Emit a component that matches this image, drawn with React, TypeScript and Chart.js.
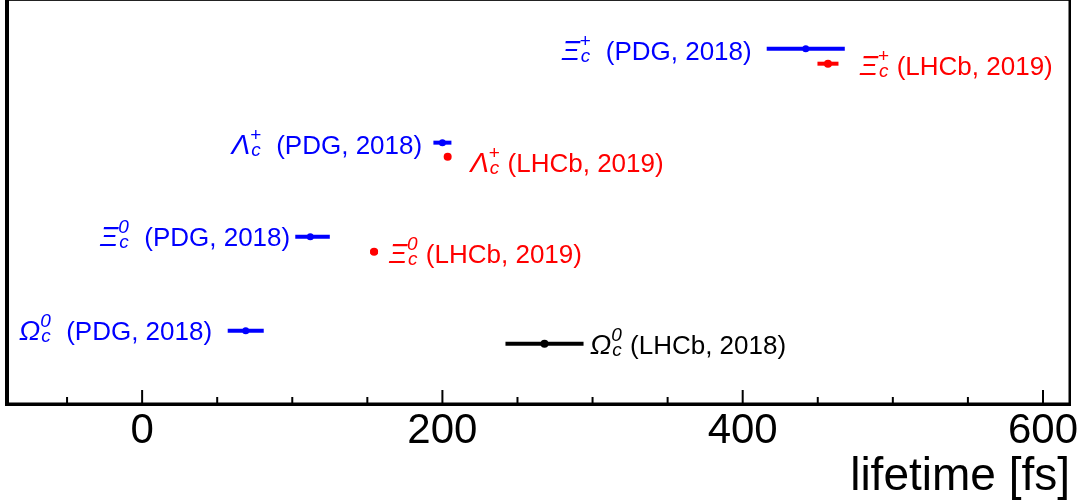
import React, { useEffect, useRef } from 'react';
import { Chart, registerables } from 'chart.js';

Chart.register(...registerables);

// ---- data ----
const greekSymbol = ['Ξ', 'Λ', 'Ξ', 'Ω'];
const chargeSymbol = ['+', '+', '0', '0'];

const pdgRow = [4, 3, 2, 1];
const pdgTau = [442, 200, 112, 69];
const pdgErrLo = [26, 6, 10, 12];
const pdgErrHi = [26, 6, 13, 12];
const pdgText = ['(PDG, 2018)', '(PDG, 2018)', '(PDG, 2018)', '(PDG, 2018)'];

const lhcbRow = [3.84, 2.85, 1.84, 0.86];
const lhcbTau = [456.8, 203.5, 154.5, 268];
const lhcbErr = [7, 2.2, 2.6, 26];
const lhcbText = ['(LHCb, 2019)', '(LHCb, 2019)', '(LHCb, 2019)', '(LHCb, 2018)'];
const lhcbColor = ['#ff0000', '#ff0000', '#ff0000', '#000000'];

// label anchors in data units
const pdgLabelX = [406, 186.5, 98.6, 46.6];
const pdgLabelY = [3.884, 2.881, 1.899, 0.896];
const lhcbLabelX = [478, 218.5, 164.4, 298.3];
const lhcbLabelY = [3.715, 2.691, 1.719, 0.748];

const xMin = -90;
const xMax = 618;
const majorStep = 200;
const minorStep = 50;
const axisTitle = 'lifetime [fs]';

const BLUE = '#0000ff';

function drawLabel(
  ctx: CanvasRenderingContext2D,
  x: number,
  y: number,
  align: 'left' | 'right',
  g: string,
  q: string,
  text: string,
  color: string
) {
  const mainFont = 'italic 28px "Liberation Sans", Arial, sans-serif';
  const subFont = 'italic 19px "Liberation Sans", Arial, sans-serif';
  const supFont = q === '+' ? '19px "Liberation Sans", Arial, sans-serif' : 'italic 19px "Liberation Sans", Arial, sans-serif';
  const textFont = '26px "Liberation Sans", Arial, sans-serif';
  ctx.save();
  ctx.fillStyle = color;
  ctx.textBaseline = 'alphabetic';
  ctx.textAlign = 'left';
  ctx.font = mainFont;
  const gw = ctx.measureText(g).width;
  ctx.font = subFont;
  const cw = ctx.measureText('c').width;
  ctx.font = supFont;
  const qw = ctx.measureText(q).width;
  const scriptW = Math.max(2 + cw, qw);
  ctx.font = textFont;
  const tw = ctx.measureText(text).width;
  const total = gw + scriptW + tw;
  const x0 = align === 'right' ? x - total : x;
  ctx.font = mainFont;
  ctx.fillText(g, x0, y);
  ctx.font = subFont;
  ctx.fillText('c', x0 + gw + 1, y + 2);
  ctx.font = supFont;
  ctx.fillText(q, x0 + gw, y - 13);
  ctx.font = textFont;
  ctx.fillText(text, x0 + gw + scriptW, y);
  ctx.restore();
}

const decorPlugin = {
  id: 'decor',
  beforeDatasetsDraw(chart: any) {
    const ctx = chart.ctx as CanvasRenderingContext2D;
    const xs = chart.scales.x;
    const ys = chart.scales.y;
    ctx.save();
    ctx.lineCap = 'butt';
    ctx.lineWidth = 4;
    for (let i = 0; i < pdgTau.length; i++) {
      const y = ys.getPixelForValue(pdgRow[i]);
      ctx.strokeStyle = BLUE;
      ctx.beginPath();
      ctx.moveTo(xs.getPixelForValue(pdgTau[i] - pdgErrLo[i]), y);
      ctx.lineTo(xs.getPixelForValue(pdgTau[i] + pdgErrHi[i]), y);
      ctx.stroke();
    }
    for (let i = 0; i < lhcbTau.length; i++) {
      const y = ys.getPixelForValue(lhcbRow[i]);
      ctx.strokeStyle = lhcbColor[i];
      ctx.beginPath();
      ctx.moveTo(xs.getPixelForValue(lhcbTau[i] - lhcbErr[i]), y);
      ctx.lineTo(xs.getPixelForValue(lhcbTau[i] + lhcbErr[i]), y);
      ctx.stroke();
    }
    ctx.restore();
  },
  afterDatasetsDraw(chart: any) {
    const ctx = chart.ctx as CanvasRenderingContext2D;
    const xs = chart.scales.x;
    const ys = chart.scales.y;
    for (let i = 0; i < pdgTau.length; i++) {
      drawLabel(ctx, xs.getPixelForValue(pdgLabelX[i]), ys.getPixelForValue(pdgLabelY[i]), 'right',
        greekSymbol[i], chargeSymbol[i], '  ' + pdgText[i], BLUE);
      drawLabel(ctx, xs.getPixelForValue(lhcbLabelX[i]), ys.getPixelForValue(lhcbLabelY[i]), 'left',
        greekSymbol[i], chargeSymbol[i], ' ' + lhcbText[i], lhcbColor[i]);
    }
  },
  afterDraw(chart: any) {
    const ctx = chart.ctx as CanvasRenderingContext2D;
    const a = chart.chartArea;
    const xs = chart.scales.x;
    ctx.save();
    // ticks (inward)
    ctx.strokeStyle = '#000';
    ctx.lineWidth = 2;
    for (const t of xs.ticks) {
      const px = xs.getPixelForValue(t.value);
      const len = t.value % majorStep === 0 ? 14 : 7;
      ctx.beginPath();
      ctx.moveTo(px, a.bottom);
      ctx.lineTo(px, a.bottom - len);
      ctx.stroke();
    }
    // frame
    ctx.fillStyle = '#222';
    ctx.fillRect(a.left, 0, a.right - a.left, 1);
    ctx.fillStyle = '#000';
    ctx.fillRect(a.left - 2, 0, 4, a.bottom + 2);
    ctx.fillRect(a.right - 1.5, 0, 2.5, a.bottom + 2);
    ctx.fillRect(a.left - 2, a.bottom - 1.5, a.right - a.left + 3, 3.5);
    ctx.restore();
  },
};

export default function App() {
  const ref = useRef<HTMLCanvasElement | null>(null);
  useEffect(() => {
    if (!ref.current) return;
    const chart = new Chart(ref.current, {
      type: 'scatter',
      data: {
        datasets: [
          {
            label: 'PDG 2018',
            data: pdgTau.map((v, i) => ({ x: v, y: pdgRow[i] })),
            backgroundColor: BLUE,
            borderColor: BLUE,
            pointRadius: 3.5,
            borderWidth: 0,
          },
          {
            label: 'LHCb',
            data: lhcbTau.map((v, i) => ({ x: v, y: lhcbRow[i] })),
            backgroundColor: lhcbColor,
            borderColor: lhcbColor,
            pointRadius: 4,
            borderWidth: 0,
          },
        ],
      },
      options: {
        animation: false,
        responsive: false,
        events: [],
        layout: { padding: { left: 7, right: 8, top: 1, bottom: 0 } },
        plugins: { legend: { display: false }, tooltip: { enabled: false } },
        scales: {
          x: {
            type: 'linear',
            min: xMin,
            max: xMax,
            grid: { display: false, drawTicks: false },
            border: { display: false },
            ticks: {
              stepSize: minorStep,
              includeBounds: false,
              autoSkip: false,
              maxRotation: 0,
              padding: 6,
              color: '#000',
              font: { family: '"Liberation Sans", Arial, sans-serif', size: 42, lineHeight: 1 },
              callback: (v: any) => (Number(v) % majorStep === 0 ? String(v) : ''),
            },
            title: {
              display: true,
              text: axisTitle,
              align: 'end',
              color: '#000',
              font: { family: '"Liberation Sans", Arial, sans-serif', size: 46, lineHeight: 1 },
              padding: { top: 0, bottom: 4 },
            },
            afterFit: (scale: any) => {
              scale.height = 100;
              scale.paddingLeft = 0;
              scale.paddingRight = 0;
            },
          },
          y: {
            type: 'linear',
            display: false,
            min: 0.22,
            max: 4.475,
          },
        },
      },
      plugins: [decorPlugin],
    } as any);
    return () => chart.destroy();
  }, []);
  return (
    <div style={{ position: 'fixed', left: 0, top: 0, width: 1078, height: 504, background: '#fff' }}>
      <canvas ref={ref} width={1078} height={504} style={{ display: 'block' }} />
    </div>
  );
}
